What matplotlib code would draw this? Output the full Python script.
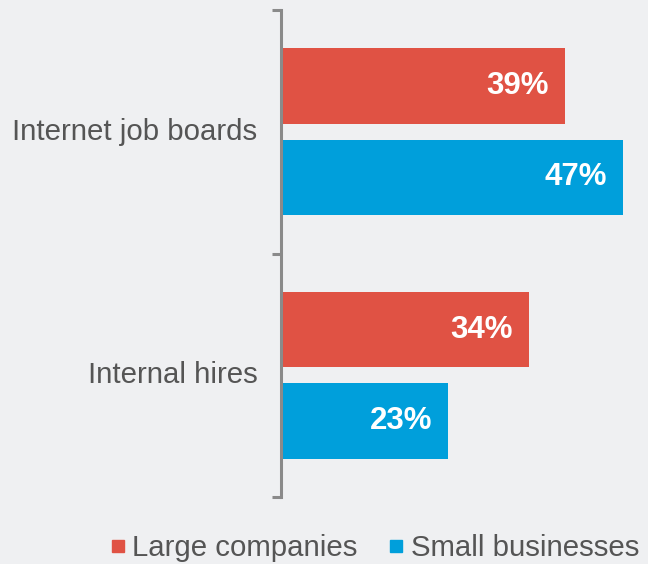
import matplotlib.pyplot as plt
from matplotlib.lines import Line2D

categories = ["Internet job boards", "Internal hires"]
large_companies = [39, 34]
small_businesses = [47, 23]
series_names = ["Large companies", "Small businesses"]

bg = "#eff0f2"
red = "#e05244"
blue = "#009fdb"
text_gray = "#555555"

plt.rcParams['font.family'] = ['Liberation Sans', 'DejaVu Sans']

fig = plt.figure(figsize=(6.48, 5.64), dpi=100, facecolor=bg)
ax = fig.add_axes([281 / 648, 1 - 497 / 564, 1 - 281 / 648, (497 - 10) / 564])
ax.set_facecolor(bg)

centers = [0.5 + i for i in range(len(categories))]
h = 0.31
off = 0.187
for i, c in enumerate(centers):
    for val, color, dy in ((large_companies[i], red, -off), (small_businesses[i], blue, off)):
        ax.barh(c + dy, val, height=h, color=color)
        ax.text(val - 2.2, c + dy, f"{val}%", ha='right', va='center',
                color='white', fontsize=22.5, fontweight='bold')

ax.set_xlim(0, (648 - 281) / 7.28)
ax.set_ylim(len(categories), 0)

for s in ('top', 'right', 'bottom'):
    ax.spines[s].set_visible(False)
ax.spines['left'].set_color('#8a8a8a')
ax.spines['left'].set_linewidth(2.2)
ax.set_xticks([])
ax.set_yticks(range(len(categories) + 1))
ax.set_yticklabels([])
ax.tick_params(axis='y', length=6.5, width=2.2, color='#8a8a8a', direction='out')

for c, lab in zip(centers, categories):
    ax.annotate(lab, xy=(0, c), xycoords=('axes fraction', 'data'),
                xytext=(-17, 0), textcoords='offset points',
                ha='right', va='center', fontsize=21.2, color=text_gray)

handles = [Line2D([], [], marker='s', linestyle='none', markersize=8, color=red),
           Line2D([], [], marker='s', linestyle='none', markersize=8, color=blue)]
fig.legend(handles, series_names, loc='center', bbox_to_anchor=(374 / 648, 1 - 548 / 564),
           ncol=2, frameon=False, fontsize=21.2, labelcolor=text_gray,
           handletextpad=0.2, columnspacing=1.0, handlelength=0.6)

fig.savefig("out.png", dpi=100, facecolor=bg)
